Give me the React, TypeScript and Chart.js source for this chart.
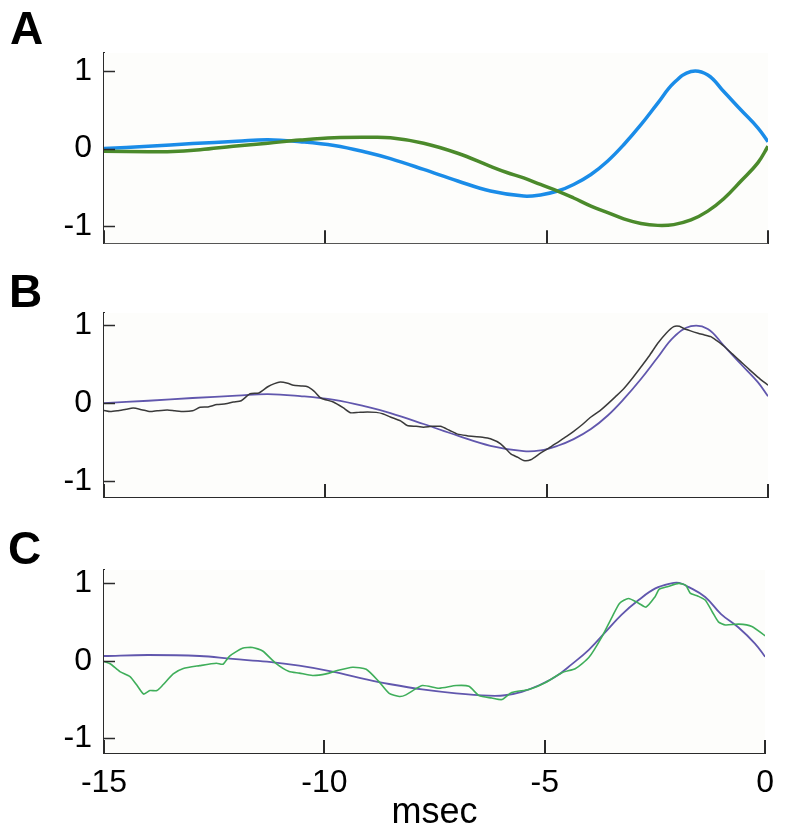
import React, { useEffect, useRef } from 'react';
import { Chart, registerables } from 'chart.js';

Chart.register(...registerables);

// ---------- shared axis data ----------
const X_TICKS = [-15, -10, -5, 0];
const Y_TICKS = [-1, 0, 1];
const X_TITLE = 'msec';
const PANEL_LABELS = ['A', 'B', 'C'];

// ---------- Panel A ----------
const blueATime = [-15, -14, -13, -12, -11.3, -10.57, -9.8, -9.05, -8.53, -7.78, -7.01, -6.27, -5.52, -5.14, -4.75, -4.39, -4.0, -3.62, -3.26, -2.87, -2.49, -2.13, -1.74, -1.36, -1.0, -0.61, -0.23, 0];
const blueAValue = [0.0, 0.03, 0.065, 0.095, 0.116, 0.09, 0.04, -0.05, -0.13, -0.27, -0.42, -0.55, -0.615, -0.6, -0.55, -0.465, -0.335, -0.16, 0.05, 0.31, 0.59, 0.85, 1.0, 0.955, 0.74, 0.5, 0.27, 0.09];

const greenATime = [-15, -14, -13.57, -12.83, -12.08, -11.3, -10.57, -9.8, -9.05, -8.53, -7.78, -7.01, -6.27, -5.9, -5.52, -5.14, -4.75, -4.39, -4.0, -3.62, -3.26, -2.87, -2.49, -2.13, -1.74, -1.36, -1.0, -0.61, -0.23, 0];
const greenAValue = [-0.035, -0.04, -0.04, -0.015, 0.03, 0.07, 0.11, 0.14, 0.146, 0.14, 0.07, -0.06, -0.23, -0.31, -0.38, -0.465, -0.55, -0.64, -0.745, -0.83, -0.91, -0.97, -0.995, -0.985, -0.925, -0.81, -0.65, -0.42, -0.185, 0.03];

// ---------- Panel B ----------
const fitBTime = [-15, -14, -13, -12, -11.3, -10.57, -9.8, -9.05, -8.53, -7.78, -7.01, -6.27, -5.52, -5.14, -4.75, -4.39, -4.0, -3.62, -3.26, -2.87, -2.49, -2.13, -1.74, -1.36, -1.0, -0.61, -0.23, 0];
const fitBValue = [0.0, 0.03, 0.065, 0.095, 0.116, 0.09, 0.04, -0.05, -0.13, -0.27, -0.42, -0.55, -0.62, -0.61, -0.55, -0.465, -0.335, -0.16, 0.05, 0.31, 0.59, 0.85, 0.99, 0.955, 0.74, 0.5, 0.27, 0.087];

const dataBTime = [-15, -14.86, -14.7, -14.5, -14.34, -14.15, -13.96, -13.8, -13.57, -13.4, -13.2, -13.0, -12.83, -12.65, -12.45, -12.25, -12.08, -11.9, -11.7, -11.5, -11.3, -11.15, -11.02, -10.85, -10.72, -10.55, -10.4, -10.25, -10.1, -9.82, -9.6, -9.43, -9.25, -9.05, -8.85, -8.69, -8.53, -8.3, -8.15, -7.95, -7.78, -7.6, -7.4, -7.2, -7.01, -6.8, -6.64, -6.45, -6.27, -6.04, -5.81, -5.65, -5.52, -5.36, -5.14, -4.95, -4.75, -4.55, -4.39, -4.2, -4.0, -3.8, -3.62, -3.45, -3.26, -3.05, -2.87, -2.68, -2.49, -2.3, -2.13, -2.0, -1.9, -1.75, -1.58, -1.45, -1.29, -1.15, -1.0, -0.8, -0.61, -0.42, -0.23, 0];
const dataBValue = [-0.095, -0.11, -0.1, -0.08, -0.065, -0.085, -0.11, -0.1, -0.09, -0.1, -0.11, -0.1, -0.055, -0.05, -0.02, -0.01, 0.013, 0.03, 0.12, 0.13, 0.21, 0.25, 0.27, 0.255, 0.23, 0.22, 0.21, 0.15, 0.065, 0.013, -0.06, -0.125, -0.12, -0.115, -0.12, -0.14, -0.18, -0.23, -0.29, -0.3, -0.31, -0.3, -0.3, -0.35, -0.4, -0.42, -0.43, -0.44, -0.46, -0.525, -0.655, -0.7, -0.74, -0.73, -0.645, -0.58, -0.505, -0.43, -0.365, -0.28, -0.18, -0.1, -0.01, 0.08, 0.185, 0.33, 0.465, 0.61, 0.77, 0.9, 0.985, 0.99, 0.96, 0.93, 0.9, 0.88, 0.855, 0.8, 0.735, 0.63, 0.53, 0.43, 0.335, 0.23];

// ---------- Panel C ----------
const fitCTime = [-15, -14, -12.83, -12.08, -11.3, -10.57, -9.82, -9.05, -8.53, -7.78, -7.01, -6.27, -5.9, -5.52, -5.14, -4.75, -4.39, -4.0, -3.62, -3.26, -2.87, -2.49, -2.13, -1.95, -1.74, -1.36, -1.0, -0.61, -0.23, 0];
const fitCValue = [0.06, 0.073, 0.06, 0.022, -0.013, -0.064, -0.14, -0.24, -0.3, -0.37, -0.42, -0.45, -0.445, -0.4, -0.32, -0.205, -0.047, 0.14, 0.37, 0.59, 0.78, 0.93, 0.995, 1.0, 0.95, 0.82, 0.6, 0.43, 0.22, 0.05];

const dataCTime = [-15, -14.86, -14.64, -14.41, -14.26, -14.1, -13.96, -13.8, -13.66, -13.43, -13.2, -12.83, -12.45, -12.3, -12.15, -11.86, -11.63, -11.4, -11.1, -10.8, -10.57, -10.27, -9.96, -9.73, -9.36, -9.05, -8.76, -8.53, -8.3, -8.15, -7.78, -7.4, -7.01, -6.72, -6.49, -6.2, -5.97, -5.75, -5.36, -4.98, -4.61, -4.3, -4.0, -3.7, -3.47, -3.3, -3.1, -2.87, -2.7, -2.5, -2.4, -2.2, -1.96, -1.8, -1.7, -1.52, -1.36, -1.2, -1.06, -0.9, -0.6, -0.3, 0];
const dataCValue = [-0.01, -0.04, -0.14, -0.205, -0.31, -0.43, -0.385, -0.385, -0.31, -0.17, -0.1, -0.064, -0.033, -0.045, 0.06, 0.16, 0.17, 0.125, -0.035, -0.14, -0.16, -0.19, -0.17, -0.13, -0.085, -0.11, -0.27, -0.42, -0.46, -0.44, -0.32, -0.355, -0.32, -0.33, -0.45, -0.48, -0.5, -0.41, -0.37, -0.28, -0.155, -0.1, 0.04, 0.31, 0.565, 0.74, 0.8, 0.74, 0.69, 0.82, 0.92, 0.955, 0.995, 0.97, 0.87, 0.83, 0.78, 0.63, 0.5, 0.46, 0.47, 0.44, 0.32];

// ---------- styles ----------
const FONT_FAMILY = "'Liberation Sans', Arial, Helvetica, sans-serif";
const AXIS_COLOR = '#2b2b2b';
const PLOT_BG = '#fdfdfb';

const toPoints = (t: number[], v: number[]) => t.map((x, i) => ({ x, y: v[i] }));

type PanelSpec = {
  top: number;
  height: number;
  padTop: number;
  xHeight: number;
  yMin: number;
  yMax: number;
  showX: boolean;
  datasets: any[];
};

const panels: PanelSpec[] = [
  {
    top: 0, height: 260, padTop: 53, xHeight: 16, yMin: -1.226, yMax: 1.239, showX: false,
    datasets: [
      { data: toPoints(greenATime, greenAValue), borderColor: '#4b8a2b', borderWidth: 3.5 },
      { data: toPoints(blueATime, blueAValue), borderColor: '#1a8ce8', borderWidth: 3.5 },
    ],
  },
  {
    top: 260, height: 260, padTop: 53, xHeight: 23, yMin: -1.21, yMax: 1.16, showX: false,
    datasets: [
      { data: toPoints(dataBTime, dataBValue), borderColor: '#3a3a3a', borderWidth: 1.5, tension: 0.2 },
      { data: toPoints(fitBTime, fitBValue), borderColor: '#6157ad', borderWidth: 1.8 },
    ],
  },
  {
    top: 520, height: 315, padTop: 50, xHeight: 82, yMin: -1.188, yMax: 1.167, showX: true,
    datasets: [
      { data: toPoints(dataCTime, dataCValue), borderColor: '#3fae5a', borderWidth: 1.6, tension: 0.2 },
      { data: toPoints(fitCTime, fitCValue), borderColor: '#6157ad', borderWidth: 1.8 },
    ],
  },
];

const decorPlugin = {
  id: 'decor',
  beforeDatasetsDraw(chart: any) {
    const { ctx, chartArea } = chart;
    ctx.save();
    ctx.fillStyle = PLOT_BG;
    ctx.fillRect(chartArea.left, chartArea.top, chartArea.right - chartArea.left, chartArea.bottom - chartArea.top);
    ctx.restore();
  },
  afterDraw(chart: any) {
    const { ctx, chartArea, scales } = chart;
    ctx.save();
    ctx.strokeStyle = AXIS_COLOR;
    ctx.lineWidth = 1.5;
    for (const t of scales.y.ticks) {
      const py = Math.round(scales.y.getPixelForValue(t.value)) + 0.5;
      ctx.beginPath();
      ctx.moveTo(chartArea.left, py);
      ctx.lineTo(chartArea.left + 11, py);
      ctx.stroke();
    }
    ctx.lineWidth = 2;
    for (const t of scales.x.ticks) {
      const px = Math.round(scales.x.getPixelForValue(t.value));
      ctx.beginPath();
      ctx.moveTo(px, chartArea.bottom);
      ctx.lineTo(px, chartArea.bottom - 13);
      ctx.stroke();
    }
    ctx.restore();
  },
};

function Panel({ spec }: { spec: PanelSpec }) {
  const ref = useRef<HTMLCanvasElement | null>(null);
  useEffect(() => {
    if (!ref.current) return;
    const chart = new Chart(ref.current, {
      type: 'line',
      data: {
        datasets: spec.datasets.map((d) => ({
          pointRadius: 0,
          fill: false,
          tension: 0.4,
          ...d,
        })),
      },
      options: {
        animation: false,
        responsive: false,
        devicePixelRatio: 1,
        layout: { padding: { top: spec.padTop, right: 17, bottom: 0, left: 0 } },
        plugins: { legend: { display: false }, tooltip: { enabled: false } },
        scales: {
          x: {
            type: 'linear',
            min: -15,
            max: 0,
            afterBuildTicks: (s: any) => {
              s.ticks = X_TICKS.map((v) => ({ value: v }));
            },
            afterFit: (s: any) => {
              s.height = spec.xHeight;
            },
            grid: { display: false, drawTicks: false },
            border: { display: true, color: AXIS_COLOR, width: 2 },
            ticks: {
              display: spec.showX,
              autoSkip: false,
              maxRotation: 0,
              padding: 11,
              color: '#000',
              font: { family: FONT_FAMILY, size: 32 },
              callback: (v: any) => String(v),
            },
            title: {
              display: spec.showX,
              text: X_TITLE,
              color: '#000',
              font: { family: FONT_FAMILY, size: 36 },
              padding: { top: 0, bottom: 0 },
            },
          },
          y: {
            type: 'linear',
            min: spec.yMin,
            max: spec.yMax,
            afterBuildTicks: (s: any) => {
              s.ticks = Y_TICKS.map((v) => ({ value: v }));
            },
            afterFit: (s: any) => {
              s.width = 104;
            },
            grid: { display: false, drawTicks: false },
            border: { display: true, color: AXIS_COLOR, width: 2 },
            ticks: {
              autoSkip: false,
              padding: 12,
              color: '#000',
              font: { family: FONT_FAMILY, size: 32, lineHeight: 0.3 },
              callback: (v: any) => String(v),
            },
          },
        },
      } as any,
      plugins: [decorPlugin],
    } as any);
    return () => chart.destroy();
  }, [spec]);
  return (
    <canvas
      ref={ref}
      width={785}
      height={spec.height}
      style={{ position: 'absolute', left: 0, top: spec.top, width: 785, height: spec.height }}
    />
  );
}

const labelPos = [
  { left: 10, top: 5 },
  { left: 9, top: 268 },
  { left: 8, top: 525 },
];

export default function App() {
  return (
    <div style={{ position: 'absolute', left: 0, top: 0, width: 785, height: 835, background: '#fff', overflow: 'hidden' }}>
      {panels.map((p, i) => (
        <Panel key={i} spec={p} />
      ))}
      {PANEL_LABELS.map((l, i) => (
        <div
          key={l}
          style={{
            position: 'absolute',
            left: labelPos[i].left,
            top: labelPos[i].top,
            fontFamily: FONT_FAMILY,
            fontWeight: 'bold',
            fontSize: 46,
            lineHeight: 1,
            color: '#000',
          }}
        >
          {l}
        </div>
      ))}
    </div>
  );
}
